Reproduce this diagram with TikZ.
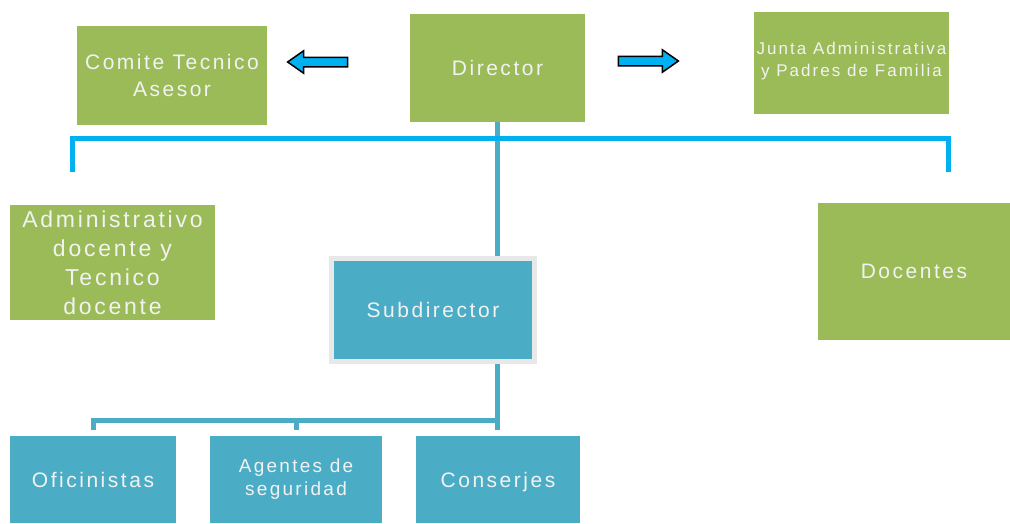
\documentclass[tikz,border=0pt]{standalone}
\usepackage{fontspec}
\setmainfont{Liberation Sans}[LetterSpace=12]
\usepackage{xcolor}
\usetikzlibrary{shapes.arrows}
\definecolor{boxgreen}{HTML}{9BBB59}
\definecolor{boxblue}{HTML}{4BACC6}
\definecolor{arrowcyan}{HTML}{00B0F0}

\begin{document}
\begin{tikzpicture}[x=1pt, y=-1pt, every node/.style={inner sep=0pt, align=center, text=white!95!black},%
        greenbox/.style={fill=boxgreen, font=\fontsize{21}{27}\selectfont},
        bluebox/.style={fill=boxblue, font=\fontsize{21}{23}\selectfont},
        blockarrow/.style={single arrow, draw=black, fill=arrowcyan, line width=1.5pt, minimum height=60pt, inner ysep=4pt, single arrow head extend=6.5pt, single arrow tip angle=70},
        subline/.style={draw=boxblue, line width=5pt},
        bracket/.style={draw=arrowcyan, line width=5pt}]
        \useasboundingbox (0,0) rectangle (1010,523);
        % top row
        \node[greenbox, minimum width=190pt, minimum height=99pt] (comite) at (172,75.5) {Comite Tecnico\\Asesor};
        \node[greenbox, minimum width=175pt, minimum height=108pt] (director) at (497.5,68) {Director};
        \node[greenbox, minimum width=195pt, minimum height=102pt, font=\fontsize{17}{22}\selectfont, text depth=8pt] (junta) at (851.5,63) {Junta Administrativa\\y Padres de Familia};
        \node[blockarrow, shape border rotate=180] (arrowleft) at (321,62) {};
        \node[blockarrow] (arrowright) at (645,61) {};
        % middle row
        \node[greenbox, minimum width=205pt, minimum height=115pt, font=\fontsize{23}{29}\selectfont] (admin) at (112.5,262.5) {Administrativo\\docente y\\Tecnico\\docente};
        \node[greenbox, minimum width=192pt, minimum height=137pt] (docentes) at (914,271.5) {Docentes};
        \node[bluebox, draw=black!9, line width=5pt, minimum width=203pt, minimum height=103pt] (sub) at (433,310) {Subdirector};
        % bottom row
        \node[bluebox, minimum width=166pt, minimum height=87pt] (ofi) at (93,479.5) {Oficinistas};
        \node[bluebox, minimum width=172pt, minimum height=87pt, font=\fontsize{19}{23}\selectfont] (agentes) at (296,479.5) {Agentes de\\seguridad};
        \node[bluebox, minimum width=164pt, minimum height=87pt, text depth=-3pt] (conserjes) at (498,479.5) {Conserjes};
        % connectors
        \coordinate (bl) at (72,172);
        \coordinate (br) at (948,172);
        \draw[subline] (director.south) -- (director.south |- sub.north);
        \draw[bracket] (bl) |- (br |- 0,138) -- (br);
        \draw[subline] (director.south |- sub.south) -- ([yshift=6pt]director.south |- conserjes.north);
        \draw[subline] ([yshift=6pt]ofi.north) |- (director.south |- 0,420);
        \draw[subline] ([yshift=6pt]agentes.north) -- (agentes.north |- 0,420);
    \end{tikzpicture}
\end{document}
